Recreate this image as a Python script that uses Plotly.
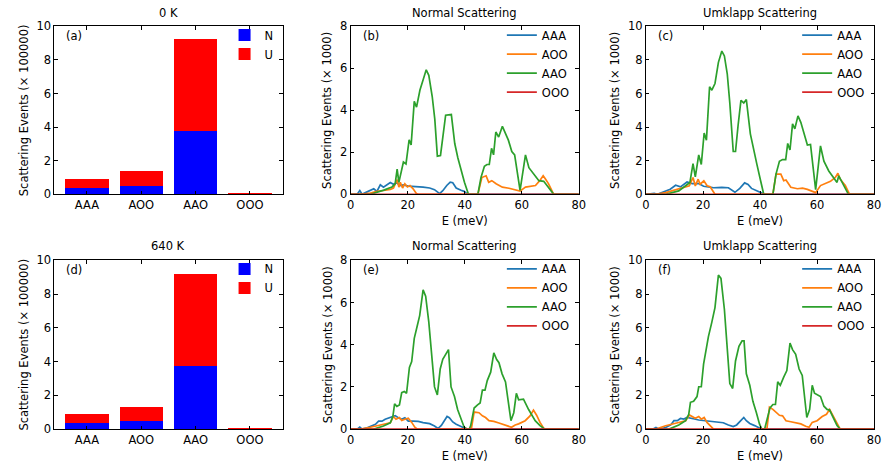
import plotly.graph_objects as go

W, H = 890, 474
FONT = "DejaVu Sans"
FS = 11.5

# ---------------- bar data ----------------
categories = ["AAA", "AOO", "AAO", "OOO"]
N_0K = [0.40, 0.51, 3.76, 0.005]
U_0K = [0.51, 0.86, 5.48, 0.025]
N_640K = [0.38, 0.50, 3.73, 0.005]
U_640K = [0.52, 0.83, 5.48, 0.025]

# ---------------- line data: (b) Normal 0 K ----------------
E_b_AAA = [0, 2.3, 3.2, 4.0, 5.2, 6.9, 8.1, 9.2, 10.4, 11.5, 12.7, 13.9, 15.0, 16.2, 17.3, 18.5, 20.2, 21.9, 23.7, 25.4, 27.7, 29.4, 31.2, 32.3, 33.7, 34.9, 35.8, 37.0, 38.7, 39.8, 41.0, 80]
V_b_AAA = [0, 0, 0.18, 0, 0.08, 0.2, 0.26, 0.14, 0.45, 0.34, 0.45, 0.56, 0.48, 0.55, 0.42, 0.45, 0.39, 0.38, 0.35, 0.34, 0.3, 0.22, 0.03, 0.17, 0.42, 0.58, 0.55, 0.3, 0.19, 0.14, 0, 0]
E_b_AOO = [0, 3.5, 6.9, 9.2, 11.5, 13.9, 15.0, 16.3, 16.9, 17.4, 18.2, 19.0, 19.9, 20.8, 21.9, 23.1, 23.7, 44.6, 46.0, 47.5, 48.4, 49.5, 51.0, 53.2, 55.5, 57.9, 59.4, 61.3, 63.1, 64.8, 66.3, 67.5, 68.3, 69.4, 71.2, 80]
V_b_AOO = [0, 0, 0.06, 0.14, 0.18, 0.23, 0.3, 0.7, 0.34, 0.57, 0.3, 0.5, 0.35, 0.42, 0.26, 0.03, 0, 0, 0.8, 0.88, 0.57, 0.65, 0.5, 0.34, 0.29, 0.22, 0.15, 0.34, 0.37, 0.42, 0.65, 0.88, 0.73, 0.5, 0, 0]
E_b_AAO = [0, 6.9, 11.6, 14.5, 15.6, 16.3, 16.9, 17.6, 18.5, 19.4, 20.5, 21.2, 22.3, 23.1, 24.3, 25.5, 26.5, 27.4, 28.6, 29.5, 30.4, 31.5, 32.4, 33.3, 35.3, 36.5, 37.6, 38.8, 39.9, 41.3, 44.6, 45.7, 46.9, 47.8, 48.6, 49.4, 50.1, 50.9, 51.9, 53.2, 54.2, 55.3, 56.5, 57.5, 59.4, 61.3, 62.5, 64.2, 66.0, 67.7, 69.4, 71.2, 80]
V_b_AAO = [0, 0, 0.2, 0.35, 0.5, 1.2, 0.57, 0.96, 1.54, 1.45, 2.6, 2.35, 4.43, 4.15, 4.97, 5.5, 5.93, 5.67, 4.66, 3.58, 1.82, 1.85, 2.73, 3.77, 3.8, 2.42, 1.73, 1.11, 0.57, 0, 0, 0.8, 1.34, 1.42, 1.42, 2.19, 1.88, 2.97, 2.73, 3.24, 2.89, 2.58, 2.04, 1.88, 0.19, 1.88, 1.27, 0.96, 0.65, 0.62, 0.34, 0, 0]

# ---------------- (c) Umklapp 0 K ----------------
E_c_AAA = [0, 2.9, 4.0, 5.5, 6.9, 8.5, 10.4, 12.1, 14.4, 16.2, 18.5, 20.2, 21.9, 23.7, 26.6, 28.9, 31.2, 32.9, 34.6, 35.8, 37.0, 39.3, 41.6, 80]
V_c_AAA = [0, 0.05, 0, 0.1, 0.2, 0.3, 0.54, 0.44, 0.73, 0.64, 0.64, 0.48, 0.44, 0.39, 0.41, 0.39, 0.12, 0.35, 0.68, 0.58, 0.35, 0.15, 0, 0]
E_c_AOO = [0, 3.5, 6.9, 9.2, 11.5, 13.9, 15.2, 16.5, 17.3, 18.3, 19.0, 20.3, 21.5, 22.5, 23.5, 24.2, 44.5, 45.6, 47.3, 48.3, 49.1, 50.0, 50.8, 53.1, 54.9, 56.6, 58.3, 59.5, 61.2, 62.9, 64.7, 66.4, 67.3, 68.1, 69.9, 71.4, 80]
V_c_AOO = [0, 0, 0.1, 0.2, 0.3, 0.4, 0.5, 1.0, 0.5, 0.9, 0.6, 0.8, 0.5, 0.45, 0.2, 0, 0, 1.2, 1.2, 0.81, 0.85, 0.62, 0.42, 0.33, 0.37, 0.29, 0.19, 0.1, 0.52, 0.62, 0.77, 1.0, 1.25, 0.9, 0.52, 0, 0]
E_c_AAO = [0, 6.9, 11.5, 13.9, 15.4, 16.5, 17.3, 18.5, 19.4, 20.4, 21.2, 22.3, 23.1, 24.2, 25.4, 26.6, 27.5, 28.5, 29.4, 30.6, 31.4, 32.3, 33.3, 34.3, 35.2, 36.6, 37.8, 38.9, 40.2, 41.3, 44.5, 45.6, 46.8, 47.9, 49.0, 49.7, 50.5, 51.4, 52.2, 53.3, 54.3, 55.4, 56.6, 57.7, 59.5, 61.2, 62.4, 64.1, 65.8, 67.0, 67.6, 69.3, 71.0, 80]
V_c_AAO = [0, 0, 0.2, 0.5, 0.7, 1.83, 1.04, 2.35, 1.78, 3.65, 3.22, 6.41, 6.2, 6.6, 7.86, 8.53, 8.24, 7.18, 5.44, 2.55, 2.55, 4.1, 5.6, 5.44, 5.64, 3.6, 2.55, 1.78, 0.81, 0, 0, 1.2, 1.97, 2.07, 2.07, 3.03, 2.64, 4.19, 3.9, 4.67, 4.29, 3.7, 2.93, 2.97, 0.27, 2.88, 1.97, 1.39, 1.0, 0.71, 1.1, 0.52, 0, 0]

# ---------------- (e) Normal 640 K ----------------
E_e_AAA = [0, 2.3, 3.2, 4.0, 5.8, 7.5, 8.7, 9.8, 11.0, 12.1, 13.3, 14.4, 15.6, 16.7, 17.9, 19.0, 20.2, 21.9, 23.7, 25.4, 27.7, 29.4, 30.6, 31.8, 32.9, 33.8, 34.6, 35.8, 37.0, 38.7, 40.2, 40.8, 80]
V_e_AAA = [0, 0, 0.1, 0, 0.06, 0.14, 0.23, 0.38, 0.38, 0.47, 0.54, 0.57, 0.64, 0.54, 0.47, 0.54, 0.38, 0.38, 0.37, 0.31, 0.26, 0.15, 0.03, 0.18, 0.38, 0.6, 0.54, 0.34, 0.23, 0.14, 0.03, 0, 0]
E_e_AOO = [0, 3.5, 6.9, 9.2, 11.5, 13.9, 15.0, 15.9, 17.1, 17.9, 19.0, 20.2, 21.4, 22.5, 23.4, 42.3, 43.3, 45.0, 46.2, 47.3, 48.5, 50.2, 52.0, 54.3, 56.4, 57.7, 58.9, 61.2, 62.9, 64.1, 65.2, 66.4, 67.9, 80]
V_e_AOO = [0, 0, 0.09, 0.17, 0.25, 0.3, 0.6, 0.47, 0.55, 0.41, 0.47, 0.52, 0.32, 0.09, 0, 0, 0.81, 0.78, 0.63, 0.55, 0.4, 0.37, 0.29, 0.2, 0.09, 0.2, 0.25, 0.4, 0.63, 0.9, 0.66, 0.32, 0, 0]
E_e_AAO = [0, 8.1, 11.5, 13.9, 14.8, 15.4, 16.2, 17.1, 17.9, 18.8, 19.6, 20.6, 21.4, 22.3, 23.4, 24.2, 25.4, 26.3, 27.4, 28.5, 29.4, 30.4, 31.4, 32.3, 33.5, 34.3, 35.2, 36.4, 37.5, 38.7, 39.8, 41.0, 41.6, 42.1, 43.3, 44.5, 45.4, 46.2, 47.1, 47.9, 49.1, 50.2, 51.2, 52.0, 53.1, 54.3, 56.2, 57.2, 58.1, 58.9, 59.7, 60.6, 62.4, 63.5, 64.7, 66.4, 68.1, 80]
V_e_AAO = [0, 0, 0.15, 0.3, 0.6, 1.2, 1.08, 1.15, 1.73, 1.78, 1.7, 2.92, 3.2, 4.3, 4.92, 5.38, 6.6, 6.3, 5.07, 3.38, 2.0, 1.62, 2.85, 3.31, 3.61, 3.77, 2.0, 1.55, 0.93, 0.47, 0.09, 0, 0, 0.17, 1.0, 1.15, 1.24, 1.85, 1.85, 2.3, 2.7, 3.61, 3.3, 3.15, 2.62, 2.24, 0.4, 0.78, 1.7, 1.39, 1.39, 1.42, 0.93, 0.7, 0.4, 0.17, 0, 0]

# ---------------- (f) Umklapp 640 K ----------------
E_f_AAA = [0, 2.3, 3.5, 4.6, 6.9, 8.7, 9.8, 11.0, 12.1, 13.3, 14.4, 15.6, 17.0, 18.5, 20.2, 21.9, 23.7, 25.4, 27.1, 28.9, 30.6, 31.8, 33.5, 34.3, 35.2, 36.4, 38.1, 39.8, 40.6, 80]
V_f_AAA = [0, 0, 0.1, 0, 0.1, 0.25, 0.5, 0.5, 0.63, 0.6, 0.69, 0.63, 0.6, 0.54, 0.5, 0.46, 0.44, 0.4, 0.38, 0.25, 0.15, 0.25, 0.59, 0.69, 0.5, 0.34, 0.21, 0.08, 0, 0]
E_f_AOO = [0, 3.5, 6.9, 9.2, 11.5, 13.9, 15.2, 16.2, 17.3, 18.5, 19.4, 20.4, 21.4, 22.5, 23.7, 42.4, 43.3, 44.5, 45.6, 46.8, 47.9, 49.1, 50.8, 52.5, 54.3, 56.0, 57.2, 58.3, 60.0, 61.8, 63.3, 64.4, 65.8, 67.0, 68.1, 80]
V_f_AOO = [0, 0, 0.2, 0.3, 0.38, 0.5, 0.84, 0.75, 0.65, 0.75, 0.59, 0.69, 0.4, 0.21, 0, 0, 1.3, 1.17, 0.98, 0.82, 0.79, 0.5, 0.44, 0.36, 0.31, 0.17, 0.11, 0.4, 0.5, 0.75, 0.88, 1.17, 0.69, 0.31, 0, 0]
E_f_AAO = [0, 8.1, 11.5, 13.9, 15.0, 15.6, 16.7, 17.9, 18.5, 19.4, 20.2, 20.8, 21.9, 23.1, 24.2, 25.4, 26.3, 27.5, 28.5, 29.4, 30.4, 31.4, 32.6, 33.7, 34.4, 35.2, 36.4, 37.5, 38.7, 39.8, 40.6, 41.6, 42.5, 43.5, 44.5, 45.4, 46.2, 47.1, 48.3, 49.4, 50.5, 51.4, 52.5, 53.7, 54.8, 56.4, 57.4, 58.3, 59.1, 60.0, 61.2, 62.4, 63.5, 64.4, 65.8, 67.0, 68.1, 80]
V_f_AAO = [0, 0, 0.25, 0.5, 0.88, 1.59, 1.65, 1.93, 2.51, 2.51, 3.85, 4.43, 5.48, 6.34, 7.2, 9.12, 8.93, 7.1, 4.43, 2.7, 2.41, 4.04, 4.9, 5.23, 5.23, 3.28, 2.6, 1.65, 0.98, 0.31, 0, 0, 0.6, 1.26, 1.46, 1.46, 2.8, 2.6, 3.08, 3.47, 5.1, 4.71, 4.43, 3.56, 3.18, 0.69, 1.17, 2.6, 2.13, 2.03, 1.93, 1.36, 1.17, 1.13, 0.59, 0.21, 0, 0]

E_OOO = [0, 80]
V_OOO = [0, 0]

series_names = ["AAA", "AOO", "AAO", "OOO"]
line_colors = ["#1f77b4", "#ff7f0e", "#2ca02c", "#d62728"]

# ---------------- geometry (pixels) ----------------
cols = [(51, 282), (351, 582), (650, 881)]
rows = [(20, 193), (261, 435)]


def px_x(p):
    return p / W


def px_y(p):
    return 1 - p / H


fig = go.Figure()

panels = {
    "a": (0, 0), "b": (0, 1), "c": (0, 2),
    "d": (1, 0), "e": (1, 1), "f": (1, 2),
}
line_data = {
    "b": [(E_b_AAA, V_b_AAA), (E_b_AOO, V_b_AOO), (E_b_AAO, V_b_AAO), (E_OOO, V_OOO)],
    "c": [(E_c_AAA, V_c_AAA), (E_c_AOO, V_c_AOO), (E_c_AAO, V_c_AAO), (E_OOO, V_OOO)],
    "e": [(E_e_AAA, V_e_AAA), (E_e_AOO, V_e_AOO), (E_e_AAO, V_e_AAO), (E_OOO, V_OOO)],
    "f": [(E_f_AAA, V_f_AAA), (E_f_AOO, V_f_AOO), (E_f_AAO, V_f_AAO), (E_OOO, V_OOO)],
}
bar_data = {"a": (N_0K, U_0K), "d": (N_640K, U_640K)}
yranges = {"b": 8, "c": 10, "e": 8, "f": 10}
titles = {"a": "0 K", "b": "Normal Scattering", "c": "Umklapp Scattering",
          "d": "640 K", "e": "Normal Scattering", "f": "Umklapp Scattering"}

axis_common = dict(
    showline=True, linecolor="black", linewidth=1, mirror="ticks",
    ticks="inside", ticklen=3.5, tickwidth=1, tickcolor="black",
    showgrid=False, zeroline=False,
    tickfont=dict(family=FONT, size=FS, color="black"),
)
cat_pos = list(range(len(categories)))

annotations = []
for i, (key, (r, c)) in enumerate(panels.items()):
    idx = i + 1
    xa = "x" if idx == 1 else f"x{idx}"
    ya = "y" if idx == 1 else f"y{idx}"
    leg = "legend" if idx == 1 else f"legend{idx}"
    x0, x1 = cols[c]
    y0, y1 = rows[r]
    xdom = [px_x(x0), px_x(x1)]
    ydom = [px_y(y1), px_y(y0)]

    xkey = "xaxis" if idx == 1 else f"xaxis{idx}"
    ykey = "yaxis" if idx == 1 else f"yaxis{idx}"

    if key in bar_data:
        nvals, uvals = bar_data[key]
        fig.add_trace(go.Bar(x=cat_pos, y=nvals, name="N", marker_color="#0000ff",
                             marker_line_width=0, width=0.8, xaxis=xa, yaxis=ya, legend=leg))
        fig.add_trace(go.Bar(x=cat_pos, y=uvals, name="U", marker_color="#ff0000",
                             marker_line_width=0, width=0.8, xaxis=xa, yaxis=ya, legend=leg))
        fig.update_layout(**{
            xkey: dict(axis_common, domain=xdom, anchor=ya, range=[-0.6, 3.6],
                       tickvals=cat_pos, ticktext=categories),
            ykey: dict(axis_common, domain=ydom, anchor=xa, range=[0, 10],
                       tickvals=[0, 2, 4, 6, 8, 10],
                       title=dict(text="Scattering Events (× 100000)",
                                  font=dict(family=FONT, size=FS, color="black"),
                                  standoff=5)),
        })
    else:
        for (E, V), nm, col in zip(line_data[key], series_names, line_colors):
            fig.add_trace(go.Scatter(x=E, y=V, mode="lines", name=nm,
                                     line=dict(color=col, width=1.7),
                                     xaxis=xa, yaxis=ya, legend=leg))
        fig.update_layout(**{
            xkey: dict(axis_common, domain=xdom, anchor=ya, range=[0, 80],
                       tickvals=[0, 20, 40, 60, 80],
                       title=dict(text="E (meV)",
                                  font=dict(family=FONT, size=FS, color="black"),
                                  standoff=5)),
            ykey: dict(axis_common, domain=ydom, anchor=xa, range=[0, yranges[key]],
                       tickvals=list(range(0, yranges[key] + 1, 2)),
                       title=dict(text="Scattering Events (× 1000)",
                                  font=dict(family=FONT, size=FS, color="black"),
                                  standoff=5)),
        })
    fig.update_layout(**{leg: dict(
        x=px_x(x1 - 4), y=px_y(y0 - 6), xanchor="right", yanchor="top",
        bgcolor="rgba(0,0,0,0)", borderwidth=0, traceorder="normal",
        font=dict(family=FONT, size=FS, color="black"),
        tracegroupgap=0, itemwidth=30,
    )})

    annotations.append(dict(text=titles[key], x=(xdom[0] + xdom[1]) / 2,
                            y=px_y(y0 - 5), xref="paper", yref="paper",
                            xanchor="center", yanchor="bottom", showarrow=False,
                            font=dict(family=FONT, size=FS, color="black")))
    annotations.append(dict(text=f"({key})", x=px_x(x0 + 10), y=px_y(y0 + 10),
                            xref="paper", yref="paper", xanchor="left",
                            yanchor="middle", showarrow=False,
                            font=dict(family=FONT, size=FS, color="black")))

fig.update_layout(
    width=W, height=H, margin=dict(l=0, r=0, t=0, b=0),
    paper_bgcolor="white", plot_bgcolor="white",
    barmode="stack", bargap=0.2,
    annotations=annotations,
    font=dict(family=FONT, size=FS, color="black"),
)

fig.write_html("out.html")
